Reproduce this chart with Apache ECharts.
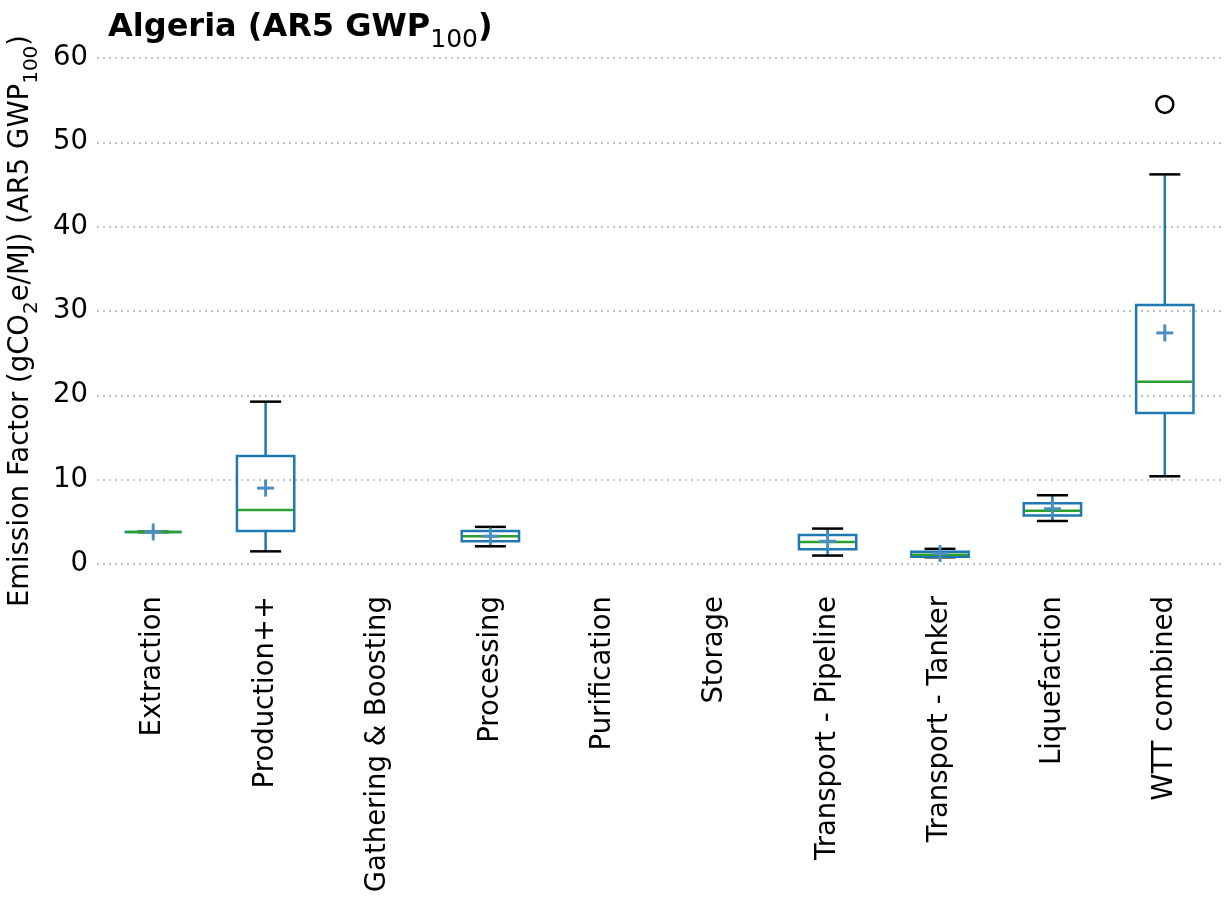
<!DOCTYPE html>
<html>
<head>
<meta charset="utf-8">
<script src="https://cdn.jsdelivr.net/npm/echarts@6/dist/echarts.min.js"></script>
<style>
  html, body { margin: 0; padding: 0; background: #fff; }
  #main { width: 1225px; height: 899px; }
</style>
</head>
<body>
<div id="main"></div>
<script>
var categories = ['Extraction', 'Production++', 'Gathering & Boosting', 'Processing', 'Purification',
  'Storage', 'Transport - Pipeline', 'Transport - Tanker', 'Liquefaction', 'WTT combined'];
// whisker ends, quartiles, median and mean per stage (null = no data)
var whiskerLow  = [3.8, 1.5, null, 2.1, null, null, 1.0, 0.8, 5.1, 10.4];
var q1          = [3.8, 3.9, null, 2.7, null, null, 1.75, 0.85, 5.75, 17.9];
var median      = [3.8, 6.4, null, 3.3, null, null, 2.6, 1.1, 6.3, 21.6];
var q3          = [3.8, 12.8, null, 3.9, null, null, 3.45, 1.45, 7.2, 30.7];
var whiskerHigh = [3.8, 19.25, null, 4.4, null, null, 4.2, 1.8, 8.15, 46.2];
var means       = [3.8, 9.0, null, 3.3, null, null, 2.7, 1.25, 6.55, 27.4];
var outliers = [['WTT combined', 54.5]];

var boxData = [];
categories.forEach(function (c, i) {
  if (median[i] == null) return;
  boxData.push([i, whiskerLow[i], q1[i], median[i], q3[i], whiskerHigh[i], means[i]]);
});
var outlierData = outliers.map(function (o) {
  return [categories.indexOf(o[0]), o[1]];
});

var BLUE = '#1f77b4', GREEN = '#2ca02c', MEAN = '#4b8fc0';

function renderBox(params, api) {
  var x = api.value(0);
  var pLo = api.coord([x, api.value(1)]);
  var pQ1 = api.coord([x, api.value(2)]);
  var pMed = api.coord([x, api.value(3)]);
  var pQ3 = api.coord([x, api.value(4)]);
  var pHi = api.coord([x, api.value(5)]);
  var pMean = api.coord([x, api.value(6)]);
  var band = api.size([1, 0])[0];
  var hb = band * 0.255, hc = band * 0.138, pm = 8.5;
  var cx = pMed[0];
  function line(x1, y1, x2, y2, color, w) {
    return { type: 'line', shape: { x1: x1, y1: y1, x2: x2, y2: y2 },
      style: { stroke: color, lineWidth: w } };
  }
  return {
    type: 'group',
    children: [
      line(cx, pLo[1], cx, pQ1[1], BLUE, 2.5),
      line(cx, pQ3[1], cx, pHi[1], BLUE, 2.5),
      line(cx - hc, pLo[1], cx + hc, pLo[1], '#000', 2.5),
      line(cx - hc, pHi[1], cx + hc, pHi[1], '#000', 2.5),
      { type: 'rect', shape: { x: cx - hb, y: pQ3[1], width: hb * 2, height: pQ1[1] - pQ3[1] },
        style: { fill: null, stroke: BLUE, lineWidth: 2.5 } },
      line(cx - hb + 1, pMed[1], cx + hb - 1, pMed[1], GREEN, 2.5),
      line(cx - pm, pMean[1], cx + pm, pMean[1], MEAN, 3),
      line(cx, pMean[1] - pm, cx, pMean[1] + pm, MEAN, 3)
    ]
  };
}

var myChart = echarts.init(document.getElementById('main'));
var font = 'DejaVu Sans';
option = {
  animation: false,
  textStyle: { fontFamily: font },
  title: {
    text: '{a|Algeria (AR5 GWP}{b|100}{a|)}',
    left: 108,
    top: 12,
    padding: 0,
    textStyle: {
      rich: {
        a: { fontFamily: font, fontSize: 32, fontWeight: 'bold', color: '#000', lineHeight: 40, verticalAlign: 'top' },
        b: { fontFamily: font, fontSize: 25, fontWeight: 'normal', color: '#000', lineHeight: 41, verticalAlign: 'bottom' }
      }
    }
  },
  grid: { left: 97, right: 4, top: 58, bottom: 335, outerBoundsMode: 'none' },
  xAxis: {
    type: 'category',
    data: categories,
    axisLine: { show: false },
    axisTick: { show: false },
    axisLabel: { rotate: 90, fontSize: 27.5, color: '#000', margin: 32, fontFamily: font },
    splitLine: { show: false }
  },
  yAxis: {
    type: 'value',
    min: 0,
    max: 60,
    interval: 10,
    axisLine: { show: false },
    axisTick: { show: false },
    axisLabel: { fontSize: 27.5, color: '#000', margin: 9, fontFamily: font },
    splitLine: { lineStyle: { color: '#c4c4c4', width: 2, type: [2, 4] } },
    name: '{m|Emission Factor (gCO}{s|2}{m|e/MJ) (AR5 GWP}{s|100}{m|)}',
    nameLocation: 'middle',
    nameRotate: 90,
    nameGap: 45,
    nameTextStyle: {
      padding: [0, 20, 0, 0],
      rich: {
        m: { fontSize: 27.5, color: '#000', fontFamily: font, lineHeight: 34, verticalAlign: 'top' },
        s: { fontSize: 20, color: '#000', fontFamily: font, lineHeight: 35, verticalAlign: 'bottom' }
      }
    }
  },
  series: [
    {
      type: 'custom',
      renderItem: renderBox,
      encode: { x: 0, y: [1, 2, 3, 4, 5, 6] },
      data: boxData,
      z: 3
    },
    {
      type: 'scatter',
      data: outlierData,
      symbol: 'circle',
      symbolSize: 17,
      itemStyle: { color: '#fff', borderColor: '#000', borderWidth: 2.5, opacity: 1 },
      z: 4
    }
  ]
};
myChart.setOption(option);
</script>
</body>
</html>
